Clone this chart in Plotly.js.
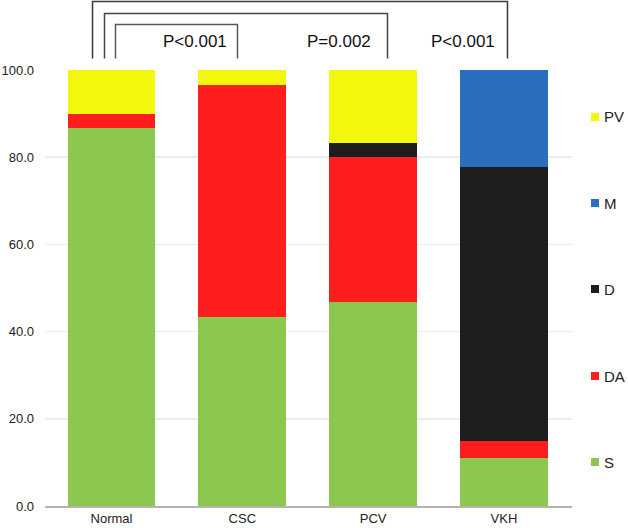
<!DOCTYPE html>
<html>
<head>
<meta charset="utf-8">
<script src="https://cdn.plot.ly/plotly-3.0.1.min.js"></script>
<style>html,body{margin:0;padding:0;background:#fff;}</style>
</head>
<body>
<div id="chart" style="width:628px;height:528px;"></div>
<script>
// ---- data ----
var categories = ["Normal", "CSC", "PCV", "VKH"];
var seriesNames = ["S", "DA", "D", "M", "PV"];
var S  = [86.7, 43.3, 46.7, 11.1];
var DA = [3.3, 53.3, 33.3, 3.7];
var D  = [0, 0, 3.3, 63.0];
var M  = [0, 0, 0, 22.2];
var PV = [10.0, 3.4, 16.7, 0];
var pLabels = ["P<0.001", "P=0.002", "P<0.001"];
var yTicks = [0, 20, 40, 60, 80, 100];
var legendOrder = ["PV", "M", "D", "DA", "S"];

// ---- styling ----
var colors = {S: "#8cc850", DA: "#fe1e1e", D: "#1e1e1e", M: "#2a6ebe", PV: "#f2f70b"};
var values = {S: S, DA: DA, D: D, M: M, PV: PV};
var FONT = "Liberation Sans, Arial, sans-serif";

var traces = seriesNames.map(function (n) {
  return {
    type: "bar", name: n, x: categories, y: values[n],
    marker: {color: colors[n], line: {width: 0}},
    showlegend: false, hoverinfo: "x+y+name"
  };
});

// plot area in px: left 45, right 572, top 70, bottom 506
var L = 45, R = 572, T = 70, B = 506;
function px(x) { return (x - L) / (R - L); }
function py(y) { return (B - y) / (B - T); }

var shapes = [];
var annotations = [];

// significance brackets (pixel positions)
var brackets = [
  {x0: 92.5, x1: 507.5, top: 1.5, color: "#3a3a3a"},
  {x0: 104.5, x1: 387.5, top: 13.5, color: "#454545"},
  {x0: 115.5, x1: 237.5, top: 24.5, color: "#5a5a5a"}
];
brackets.forEach(function (b) {
  shapes.push({
    type: "path", xref: "paper", yref: "paper",
    path: "M" + px(b.x0) + "," + py(58.5) + " L" + px(b.x0) + "," + py(b.top) +
          " L" + px(b.x1) + "," + py(b.top) + " L" + px(b.x1) + "," + py(58.5),
    line: {color: b.color, width: 1.5}
  });
});
var pX = [195, 339, 463];
pLabels.forEach(function (t, i) {
  annotations.push({
    text: t, xref: "paper", yref: "paper", x: px(pX[i]), y: py(42),
    xanchor: "center", yanchor: "middle", showarrow: false,
    font: {family: FONT, size: 17, color: "#111"}
  });
});

// manual legend
var legY = [117, 203, 289, 376, 462];
legendOrder.forEach(function (n, i) {
  shapes.push({
    type: "rect", xref: "paper", yref: "paper",
    x0: px(591), x1: px(599), y0: py(legY[i] + 4), y1: py(legY[i] - 4),
    fillcolor: colors[n], line: {width: 0}
  });
  annotations.push({
    text: n, xref: "paper", yref: "paper", x: px(602), y: py(legY[i]),
    xanchor: "left", yanchor: "middle", showarrow: false,
    font: {family: FONT, size: 15, color: "#222"}
  });
});

var layout = {
  width: 628, height: 528,
  margin: {l: L, r: 628 - R, t: T, b: 528 - B, pad: 0},
  paper_bgcolor: "#fff", plot_bgcolor: "#fff",
  barmode: "stack", bargap: 0.33,
  showlegend: false,
  font: {family: FONT, size: 13, color: "#333"},
  xaxis: {
    type: "category", range: [-0.508, 3.52], automargin: false,
    showgrid: false, zeroline: false, showline: true, linecolor: "#b4b4b4", linewidth: 1.5,
    ticks: "", ticklabelstandoff: 0,
    tickfont: {family: FONT, size: 13, color: "#222"}
  },
  yaxis: {
    range: [0, 100], automargin: false, tickvals: yTicks, tickformat: ".1f",
    showgrid: true, gridcolor: "#ececec", gridwidth: 1.5, zeroline: false, showline: false,
    ticks: "", ticklabelstandoff: 10,
    tickfont: {family: FONT, size: 13, color: "#222"}
  },
  shapes: shapes,
  annotations: annotations
};

Plotly.newPlot("chart", traces, layout, {displayModeBar: false, staticPlot: true});
</script>
</body>
</html>
